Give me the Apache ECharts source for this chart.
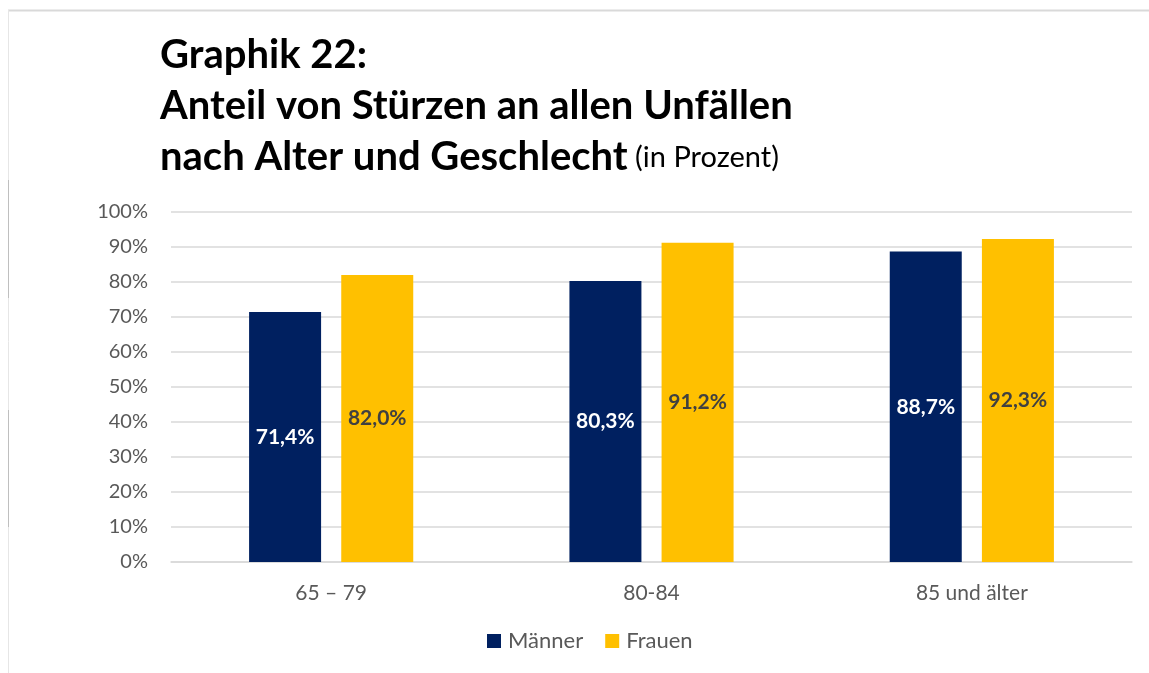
<!DOCTYPE html>
<html><head><meta charset="utf-8">
<script src="https://cdn.jsdelivr.net/npm/echarts@6/dist/echarts.min.js"></script>
<style>html,body{margin:0;padding:0;background:#fff}#c{width:1149px;height:673px}</style>
</head><body><div id="c"></div>
<script>
const categories = ['65 – 79', '80-84', '85 und älter'];
const maenner = [71.4, 80.3, 88.7];
const frauen = [82.0, 91.2, 92.3];
const yTicks = [0, 10, 20, 30, 40, 50, 60, 70, 80, 90, 100];

const font = 'Lato, "Open Sans", sans-serif';
const chart = echarts.init(document.getElementById('c'));
const fmt = v => v.toFixed(1).replace('.', ',') + '%';
chart.setOption({
  animation: false,
  title: {
    left: 155, top: 25,
    text: '{b|Graphik 22:}\n{b|Anteil von Stürzen an allen Unfällen}\n{b|nach Alter und Geschlecht}{r| (in Prozent)}',
    textStyle: {
      rich: {
        b: {fontFamily: font, fontWeight: 'bold', fontSize: 40, color: '#000', lineHeight: 51},
        r: {fontFamily: font, fontWeight: 'normal', fontSize: 29, color: '#000', lineHeight: 51}
      }
    }
  },
  graphic: [
    {type: 'line', shape: {x1: 8, y1: 10.5, x2: 1149, y2: 10.5}, style: {stroke: '#d9d9d9', lineWidth: 2}},
    {type: 'line', shape: {x1: 8.5, y1: 10, x2: 8.5, y2: 673}, style: {stroke: '#e6e6e6', lineWidth: 1}},
    {type: 'line', shape: {x1: 8.5, y1: 180, x2: 8.5, y2: 298}, style: {stroke: '#bfbfbf', lineWidth: 1}},
    {type: 'line', shape: {x1: 8.5, y1: 410, x2: 8.5, y2: 527}, style: {stroke: '#bfbfbf', lineWidth: 1}}
  ],
  legend: {
    top: 625, left: 482, itemWidth: 14, itemHeight: 14, itemGap: 22,
    icon: 'rect',
    textStyle: {fontFamily: font, fontSize: 22, color: '#595959', padding: [0,0,0,2]},
    data: ['Männer', 'Frauen']
  },
  grid: {left: 171, right: 17, top: 212, bottom: 111, containLabel: false},
  xAxis: {
    type: 'category', data: categories,
    axisLine: {lineStyle: {color: '#d9d9d9', width: 1.5}},
    axisTick: {show: false},
    axisLabel: {fontFamily: font, fontSize: 21, color: '#595959', margin: 21}
  },
  yAxis: {
    type: 'value', min: 0, max: 100, interval: 10,
    axisLine: {show: false}, axisTick: {show: false},
    splitLine: {lineStyle: {color: '#d9d9d9', width: 1.5}},
    axisLabel: {fontFamily: font, fontSize: 20, color: '#595959', margin: 23,
      formatter: v => yTicks.includes(v) ? v + '%' : ''}
  },
  series: [
    {name: 'Männer', type: 'bar', data: maenner, barWidth: 72, barGap: '28%',
      itemStyle: {color: '#002060'},
      label: {show: true, position: 'inside', formatter: p => fmt(p.value),
        fontFamily: font, fontWeight: 'bold', fontSize: 21, color: '#fff'}},
    {name: 'Frauen', type: 'bar', data: frauen, barWidth: 72,
      itemStyle: {color: '#FFC000'},
      label: {show: true, position: 'inside', formatter: p => fmt(p.value),
        fontFamily: font, fontWeight: 'bold', fontSize: 21, color: '#404040'}}
  ]
});
</script></body></html>
